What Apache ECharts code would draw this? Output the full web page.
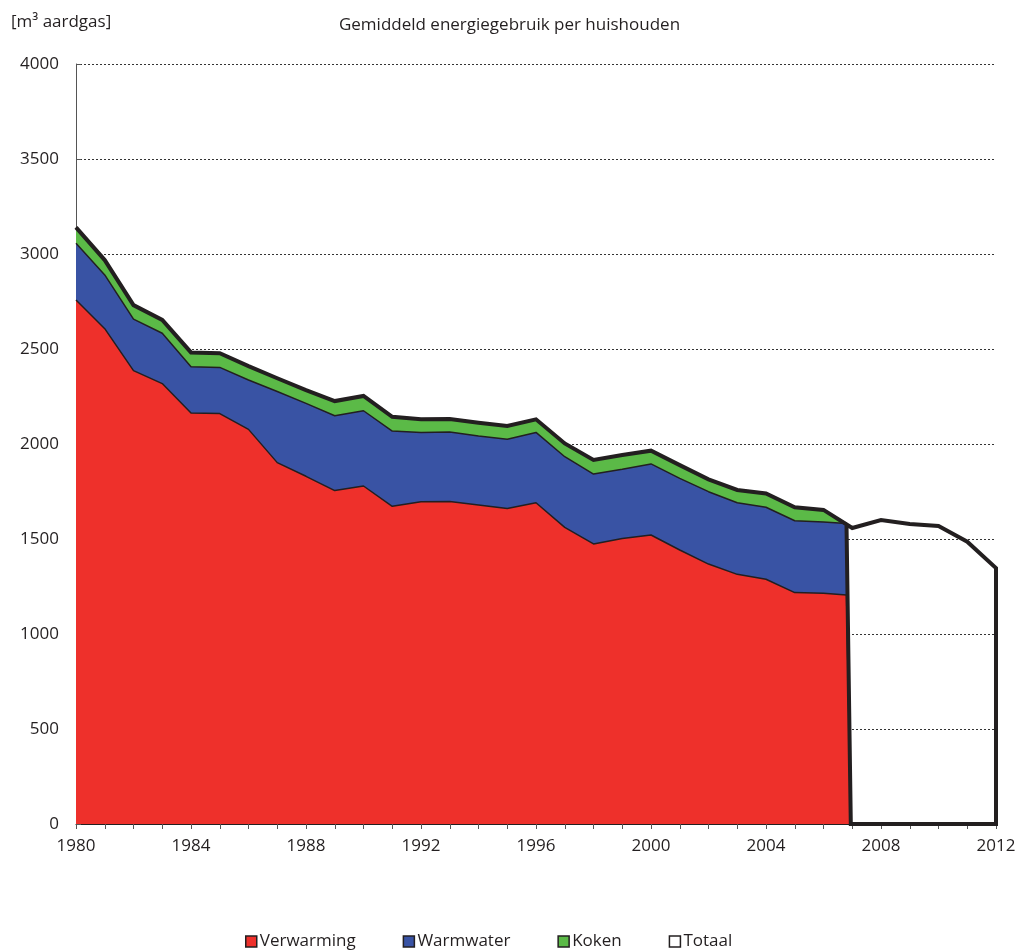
<!DOCTYPE html>
<html>
<head>
<meta charset="utf-8">
<script src="https://cdn.jsdelivr.net/npm/echarts@6/dist/echarts.min.js"></script>
<style>
  html, body { margin: 0; padding: 0; background: #fff; }
  #myChart { width: 1019px; height: 951px; }
</style>
</head>
<body>
<div id="myChart"></div>
<script>
const years = [1980, 1981, 1982, 1983, 1984, 1985, 1986, 1987, 1988, 1989, 1990, 1991, 1992, 1993,
  1994, 1995, 1996, 1997, 1998, 1999, 2000, 2001, 2002, 2003, 2004, 2005, 2006]
const verwarming = [2758, 2607, 2386, 2318, 2163, 2160, 2077, 1902, 1830, 1755, 1779, 1672, 1696, 1697,
  1679, 1661, 1691, 1561, 1474, 1503, 1521, 1442, 1368, 1314, 1288, 1218, 1214]
const warmwater = [298, 283, 271, 265, 243, 243, 260, 374, 384, 394, 396, 396, 365, 366,
  363, 364, 370, 372, 368, 364, 374, 377, 381, 377, 379, 378, 375]
const koken = [84, 78, 74, 70, 76, 75, 73, 70, 70, 77, 78, 75, 69, 69,
  70, 70, 69, 70, 74, 75, 70, 70, 65, 67, 73, 71, 64]

// end of the areas: they stop just before 2007 and drop to zero
const eindJaar = 2006.8
const nulJaar = 2006.95
const eindVerwarming = 1205
const eindWarmwater = 377
const eindTotaal = 1577

const totaalJaren = [1980, 1981, 1982, 1983, 1984, 1985, 1986, 1987, 1988, 1989, 1990, 1991, 1992, 1993,
  1994, 1995, 1996, 1997, 1998, 1999, 2000, 2001, 2002, 2003, 2004, 2005, 2006, 2007, 2008, 2009, 2010, 2011, 2012]
const totaal = [3140, 2968, 2731, 2653, 2482, 2478, 2410, 2346, 2284, 2226, 2253, 2143, 2130, 2132,
  2112, 2095, 2130, 2003, 1916, 1942, 1965, 1889, 1814, 1758, 1740, 1667, 1653, 1558, 1600, 1579, 1568, 1486, 1347]

const xTicks = [1980, 1984, 1988, 1992, 1996, 2000, 2004, 2008, 2012]
const yTicks = [0, 500, 1000, 1500, 2000, 2500, 3000, 3500, 4000]

const zwart = '#231F20'
const font = 'Open Sans'

// cumulative tops (areas drawn over each other, top layer first)
let redTop = years.map((y, i) => [y, verwarming[i]])
let blueTop = years.map((y, i) => [y, verwarming[i] + warmwater[i]])
let greenTop = years.map((y, i) => [y, verwarming[i] + warmwater[i] + koken[i]])
redTop.push([eindJaar, eindVerwarming], [nulJaar, 0])
blueTop.push([eindJaar, eindVerwarming + eindWarmwater], [nulJaar, 0])
greenTop.push([eindJaar, eindVerwarming + eindWarmwater], [nulJaar, 0])

let totaalLijn = totaalJaren.map((y, i) => [y, totaal[i]])
// close the white box after 2007
totaalLijn.push([2012, 0], [nulJaar, 0], [eindJaar, eindTotaal])

function area(name, data, color, lineWidth) {
    return {
        name: name,
        type: 'line',
        data: data,
        symbol: 'none',
        animation: false,
        lineStyle: { color: zwart, width: lineWidth },
        itemStyle: { color: color },
        areaStyle: { color: color, opacity: 1 }
    }
}

let myChart = echarts.init(document.getElementById('myChart'))
let option = {
    backgroundColor: '#fff',
    animation: false,
    title: [
        {
            text: 'Gemiddeld energiegebruik per huishouden',
            left: 'center',
            top: 12,
            textStyle: { fontFamily: font, fontSize: 17, fontWeight: 'normal', color: zwart }
        },
        {
            text: '[m³ aardgas]',
            left: 6,
            top: 9,
            textStyle: { fontFamily: font, fontSize: 17, fontWeight: 'normal', color: zwart }
        }
    ],
    grid: { left: 76, right: 23, top: 64, bottom: 127 },
    legend: {
        left: 240,
        top: 928,
        icon: 'rect',
        itemWidth: 11,
        itemHeight: 11,
        itemGap: 47,
        textStyle: { fontFamily: font, fontSize: 17, color: zwart, padding: [0, 0, 0, -2] },
        data: [
            { name: 'Verwarming', itemStyle: { color: '#EE302B', borderColor: zwart, borderWidth: 1.5 } },
            { name: 'Warmwater', itemStyle: { color: '#3953A4', borderColor: zwart, borderWidth: 1.5 } },
            { name: 'Koken', itemStyle: { color: '#5BBA47', borderColor: zwart, borderWidth: 1.5 } },
            { name: 'Totaal', itemStyle: { color: '#fff', borderColor: zwart, borderWidth: 1.5 } }
        ]
    },
    xAxis: {
        type: 'value',
        min: xTicks[0],
        max: xTicks[xTicks.length - 1],
        interval: 4,
        axisLine: { show: true, onZero: false, lineStyle: { color: zwart, width: 1 } },
        axisTick: { show: true, length: 5, lineStyle: { color: '#555' } },
        minorTick: { show: true, splitNumber: 4, length: 5, lineStyle: { color: '#555' } },
        splitLine: { show: false },
        axisLabel: { margin: 14, fontFamily: font, fontSize: 17, color: zwart, formatter: v => String(v) }
    },
    yAxis: {
        type: 'value',
        min: yTicks[0],
        max: yTicks[yTicks.length - 1],
        interval: 500,
        axisLine: { show: true, lineStyle: { color: '#555', width: 1 } },
        axisTick: { show: true, inside: true, length: 5, lineStyle: { color: '#555' } },
        splitLine: { show: true, lineStyle: { color: '#333', width: 1, type: [2, 2] } },
        axisLabel: { margin: 17, fontFamily: font, fontSize: 17, color: zwart, formatter: v => String(v) }
    },
    series: [
        area('Koken', greenTop, '#5BBA47', 1.5),
        area('Warmwater', blueTop, '#3953A4', 1.5),
        area('Verwarming', redTop, '#EE302B', 1.5),
        {
            name: 'Totaal',
            type: 'line',
            data: totaalLijn,
            symbol: 'none',
            animation: false,
            z: 5,
            itemStyle: { color: '#fff' },
            lineStyle: { color: zwart, width: 4, join: 'miter' }
        }
    ]
}
myChart.setOption(option)
</script>
</body>
</html>
